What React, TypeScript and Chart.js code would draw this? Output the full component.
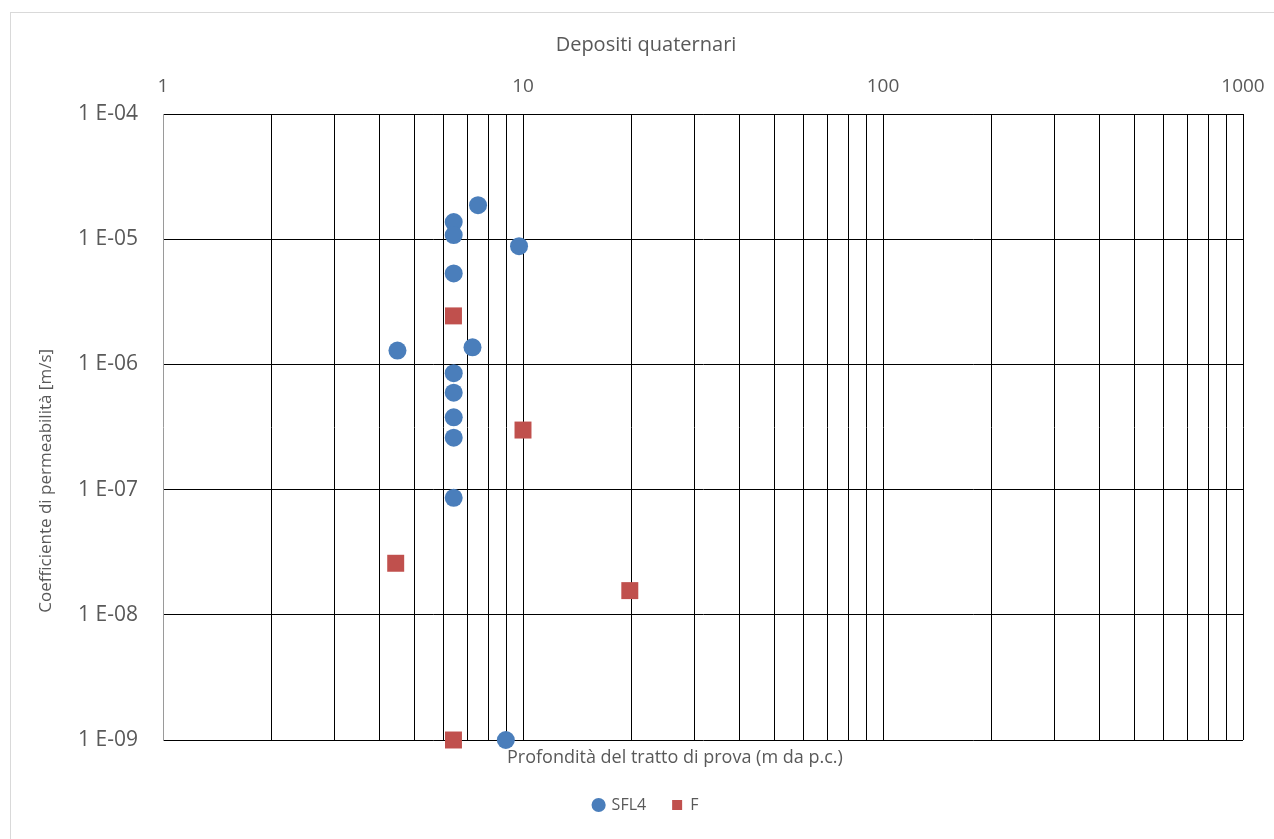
import React, { useEffect, useRef } from "react";
import { Chart, registerables } from "chart.js";

Chart.register(...registerables);

// ---- Data ----
const seriesNames = ["SFL4", "F"];
const sfl4X = [7.5, 6.42, 6.42, 9.75, 6.42, 4.48, 7.24, 6.42, 6.42, 6.42, 6.42, 6.42, 8.96];
const sfl4Y = [1.87e-5, 1.37e-5, 1.08e-5, 8.8e-6, 5.33e-6, 1.29e-6, 1.37e-6, 8.5e-7, 5.94e-7, 3.78e-7, 2.6e-7, 8.6e-8, 1e-9];
const fX = [6.41, 10.0, 4.43, 19.8, 6.41];
const fY = [2.44e-6, 2.99e-7, 2.58e-8, 1.56e-8, 1e-9];

const xTickValues = [
  1, 2, 3, 4, 5, 6, 7, 8, 9,
  10, 20, 30, 40, 50, 60, 70, 80, 90,
  100, 200, 300, 400, 500, 600, 700, 800, 900,
  1000,
];
const yTickValues = [1e-9, 1e-8, 1e-7, 1e-6, 1e-5, 1e-4];

const chartTitle = "Depositi quaternari";
const xTitle = "Profondità del tratto di prova (m da p.c.)";
const yTitle = "Coefficiente di permeabilità [m/s]";

const BLUE = "#4A7EBB";
const RED = "#C0504D";
const TEXT = "#595959";
const FONT = '"Open Sans", sans-serif';

const isDecade = (v: number) => Math.abs(Math.log10(v) - Math.round(Math.log10(v))) < 1e-9;

const axisTitlesPlugin = {
  id: "axisTitles",
  afterDraw(chart: any) {
    const { ctx, chartArea: a } = chart;
    ctx.save();
    ctx.fillStyle = TEXT;
    ctx.textAlign = "center";
    ctx.textBaseline = "middle";
    ctx.font = `18px ${FONT}`;
    ctx.fillText(xTitle, a.left + 0.474 * (a.right - a.left), a.bottom + 18);
    ctx.translate(35, a.top + 0.586 * (a.bottom - a.top));
    ctx.rotate(-Math.PI / 2);
    ctx.font = `17px ${FONT}`;
    ctx.fillText(yTitle, 0, 0);
    ctx.restore();
  },
};

export default function App() {
  const ref = useRef<HTMLCanvasElement | null>(null);

  useEffect(() => {
    if (!ref.current) return;
    Chart.defaults.font.family = FONT;
    Chart.defaults.color = TEXT;
    const chart = new Chart(ref.current, {
      type: "scatter",
      data: {
        datasets: [
          {
            label: seriesNames[0],
            data: sfl4X.map((x, i) => ({ x, y: sfl4Y[i] })),
            backgroundColor: BLUE,
            borderColor: BLUE,
            pointStyle: "circle",
            pointRadius: 9,
            pointHoverRadius: 9,
            borderWidth: 0,
            clip: false,
          },
          {
            label: seriesNames[1],
            data: fX.map((x, i) => ({ x, y: fY[i] })),
            backgroundColor: RED,
            borderColor: RED,
            pointStyle: "rect",
            pointRadius: 12,
            pointHoverRadius: 12,
            borderWidth: 0,
            clip: false,
          },
        ],
      },
      options: {
        responsive: false,
        animation: false,
        events: [],
        layout: { padding: { left: 38, right: 31, top: 0, bottom: 16 } },
        plugins: {
          title: {
            display: true,
            text: chartTitle,
            position: "top",
            color: TEXT,
            font: { size: 20, weight: "normal", family: FONT },
            padding: { top: 20, bottom: 10 },
          },
          legend: {
            display: true,
            position: "bottom",
            labels: {
              usePointStyle: true,
              boxWidth: 10,
              boxHeight: 10,
              padding: 26,
              color: TEXT,
              font: { size: 16, family: FONT },
            },
          },
          tooltip: { enabled: false },
        },
        scales: {
          x: {
            type: "logarithmic",
            position: "top",
            min: 1,
            max: 1000,
            afterBuildTicks: (scale: any) => {
              scale.ticks = xTickValues.map((v) => ({ value: v }));
            },
            afterFit: (scale: any) => {
              scale.height = 47;
              scale.paddingLeft = 0;
              scale.paddingRight = 0;
            },
            ticks: {
              autoSkip: false,
              maxRotation: 0,
              padding: 16,
              color: TEXT,
              font: { size: 19, family: FONT },
              callback: (v: any) => (isDecade(Number(v)) ? String(Number(v)) : ""),
            },
            grid: {
              drawTicks: false,
              lineWidth: 1,
              color: (c: any) => (c.tick && c.tick.value === 1 ? "rgba(0,0,0,0)" : "#000000"),
            },
            border: { display: true, color: "#000000" },
          },
          x2: {
            type: "linear",
            position: "bottom",
            min: 0,
            max: 1,
            display: true,
            afterFit: (scale: any) => {
              scale.height = 31;
              scale.paddingLeft = 0;
              scale.paddingRight = 0;
            },
            ticks: { display: false },
            grid: { display: false, drawTicks: false },
            border: { display: false },
          },
          y: {
            type: "logarithmic",
            position: "left",
            min: 1e-9,
            max: 1e-4,
            afterBuildTicks: (scale: any) => {
              scale.ticks = yTickValues.map((v) => ({ value: v }));
            },
            afterFit: (scale: any) => {
              scale.width = 114;
            },
            ticks: {
              autoSkip: false,
              padding: 25,
              color: TEXT,
              font: { size: 21, family: FONT },
              callback: (v: any) => {
                const e = Math.round(Math.log10(Number(v)));
                const n = Math.abs(e);
                return `1 E${e < 0 ? "-" : "+"}${n < 10 ? "0" + n : n}`;
              },
            },
            grid: { drawTicks: false, lineWidth: 1, color: "#000000" },
            border: { display: true, color: "#9a9a9a" },
          },
        },
      },
      plugins: [axisTitlesPlugin],
    } as any);
    return () => chart.destroy();
  }, []);

  return (
    <div
      style={{
        position: "absolute",
        left: 10,
        top: 12,
        width: 1264,
        height: 827,
        borderLeft: "1px solid #d9d9d9",
        borderTop: "1px solid #d9d9d9",
        boxSizing: "border-box",
        background: "#ffffff",
      }}
    >
      <canvas ref={ref} width={1263} height={826} style={{ display: "block" }} />
    </div>
  );
}
